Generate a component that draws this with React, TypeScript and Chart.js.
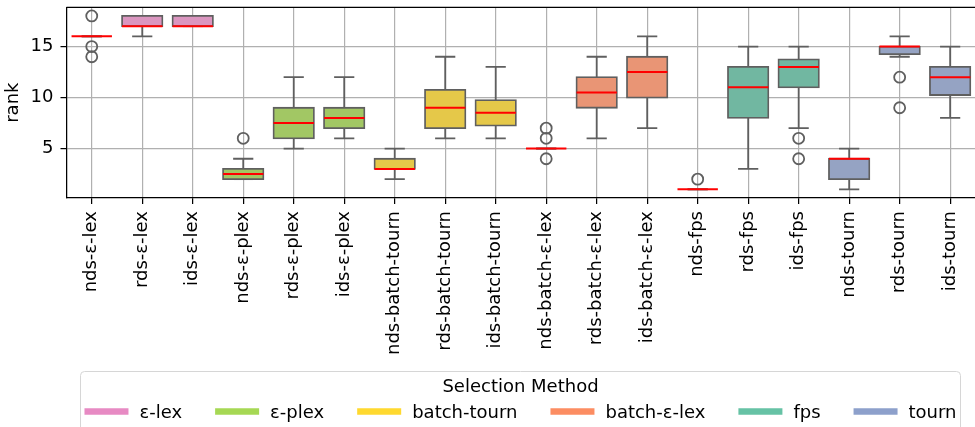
import { useEffect, useRef } from 'react';
import { Chart, registerables } from 'chart.js';

Chart.register(...registerables);

const FONT = '"DejaVu Sans", "Liberation Sans", sans-serif';

// one box per selection strategy
const categories = [
  'nds-ε-lex', 'rds-ε-lex', 'ids-ε-lex',
  'nds-ε-plex', 'rds-ε-plex', 'ids-ε-plex',
  'nds-batch-tourn', 'rds-batch-tourn', 'ids-batch-tourn',
  'nds-batch-ε-lex', 'rds-batch-ε-lex', 'ids-batch-ε-lex',
  'nds-fps', 'rds-fps', 'ids-fps',
  'nds-tourn', 'rds-tourn', 'ids-tourn',
];
// index into methods for each category
const methodOf = [0, 0, 0, 1, 1, 1, 2, 2, 2, 3, 3, 3, 4, 4, 4, 5, 5, 5];

const whiskerLow = [16, 16, 17, 2, 5, 6, 2, 6, 6, 5, 6, 7, 1, 3, 7, 1, 14, 8];
const q1 = [16, 17, 17, 2, 6, 7, 3, 7, 7.25, 5, 9, 10, 1, 8, 11, 2, 14.25, 10.25];
const median = [16, 17, 17, 2.5, 7.5, 8, 3, 9, 8.5, 5, 10.5, 12.5, 1, 11, 13, 4, 15, 12];
const q3 = [16, 18, 18, 3, 9, 9, 4, 10.75, 9.75, 5, 12, 14, 1, 13, 13.75, 4, 15, 13];
const whiskerHigh = [16, 18, 18, 4, 12, 12, 5, 14, 13, 5, 14, 16, 1, 15, 15, 5, 16, 15];
const outliers: number[][] = [
  [18, 15, 14], [], [], [6], [], [], [], [], [],
  [7, 6, 4], [], [], [2], [], [6, 4], [], [12, 9], [],
];

const methods = ['ε-lex', 'ε-plex', 'batch-tourn', 'batch-ε-lex', 'fps', 'tourn'];
const methodColors = ['#e78ac3', '#a6d854', '#ffd92f', '#fc8d62', '#66c2a5', '#8da0cb'];
const boxColors = ['#db96c0', '#a2c764', '#e5c849', '#e99575', '#71b7a1', '#95a3c3'];

const yTicks = [5, 10, 15];
const yMin = 0.15;
const yMax = 18.85;

const LINE_GRAY = '#5f5f5f';
const MEDIAN_RED = '#ff0000';

const boxPartsPlugin = {
  id: 'boxParts',
  beforeDatasetsDraw(chart: any) {
    const { ctx } = chart;
    const y = chart.scales.y;
    const bars = chart.getDatasetMeta(0).data;
    ctx.save();
    ctx.strokeStyle = LINE_GRAY;
    ctx.lineWidth = 1.8;
    bars.forEach((bar: any, i: number) => {
      const cx = bar.x;
      const cap = bar.width / 4;
      const segs: [number, number][] = [
        [q3[i], whiskerHigh[i]],
        [q1[i], whiskerLow[i]],
      ];
      segs.forEach(([from, to]) => {
        const y0 = y.getPixelForValue(from);
        const y1 = y.getPixelForValue(to);
        ctx.beginPath();
        ctx.moveTo(cx, y0);
        ctx.lineTo(cx, y1);
        ctx.moveTo(cx - cap, y1);
        ctx.lineTo(cx + cap, y1);
        ctx.stroke();
      });
    });
    ctx.restore();
  },
  afterDatasetsDraw(chart: any) {
    const { ctx, chartArea } = chart;
    const y = chart.scales.y;
    const bars = chart.getDatasetMeta(0).data;
    ctx.save();
    ctx.strokeStyle = MEDIAN_RED;
    ctx.lineWidth = 2;
    bars.forEach((bar: any, i: number) => {
      const py = y.getPixelForValue(median[i]);
      ctx.beginPath();
      ctx.moveTo(bar.x - bar.width / 2, py);
      ctx.lineTo(bar.x + bar.width / 2, py);
      ctx.stroke();
    });
    // top spine
    ctx.strokeStyle = '#000';
    ctx.lineWidth = 1.25;
    ctx.beginPath();
    ctx.moveTo(chartArea.left, chartArea.top);
    ctx.lineTo(chartArea.right, chartArea.top);
    ctx.stroke();
    ctx.restore();
  },
  afterDraw(chart: any) {
    const { ctx } = chart;
    ctx.save();
    // legend frame
    ctx.beginPath();
    ctx.roundRect(80.5, 371.5, 880, 90, 4);
    ctx.fillStyle = '#ffffff';
    ctx.fill();
    ctx.strokeStyle = '#d6d6d6';
    ctx.lineWidth = 1;
    ctx.stroke();

    const cx = 520.5;
    ctx.font = `18px ${FONT}`;
    ctx.fillStyle = '#000';
    ctx.textAlign = 'center';
    ctx.textBaseline = 'alphabetic';
    ctx.fillText('Selection Method', cx, 392);

    const handle = 44;
    const gap = 11;
    const spacing = 33;
    const widths = methods.map((m) => ctx.measureText(m).width);
    const total = widths.reduce((s, w) => s + handle + gap + w, 0) + spacing * (methods.length - 1);
    let x = cx - total / 2;
    ctx.textAlign = 'left';
    methods.forEach((m, i) => {
      ctx.strokeStyle = methodColors[i];
      ctx.lineWidth = 6.5;
      ctx.beginPath();
      ctx.moveTo(x, 411.5);
      ctx.lineTo(x + handle, 411.5);
      ctx.stroke();
      ctx.fillText(m, x + handle + gap, 418);
      x += handle + gap + widths[i] + spacing;
    });
    ctx.restore();
  },
};

export default function App() {
  const canvasRef = useRef<HTMLCanvasElement | null>(null);

  useEffect(() => {
    if (!canvasRef.current) return;
    const outlierPoints: { x: string; y: number }[] = [];
    outliers.forEach((vals, i) => vals.forEach((v) => outlierPoints.push({ x: categories[i], y: v })));

    const chart = new Chart(canvasRef.current, {
      type: 'bar',
      data: {
        labels: categories,
        datasets: [
          {
            type: 'bar',
            label: 'box',
            data: categories.map((_, i) => [q1[i], q3[i]]),
            backgroundColor: categories.map((_, i) => boxColors[methodOf[i]]),
            borderColor: LINE_GRAY,
            borderWidth: 1.8,
            borderSkipped: false,
            inflateAmount: 0.9,
            barPercentage: 0.8,
            categoryPercentage: 1,
            order: 2,
          } as any,
          {
            type: 'scatter',
            label: 'outliers',
            data: outlierPoints,
            pointStyle: 'circle',
            pointRadius: 5.5,
            backgroundColor: 'rgba(0,0,0,0)',
            borderColor: LINE_GRAY,
            borderWidth: 1.8,
            clip: false,
            order: 1,
          } as any,
        ],
      },
      options: {
        responsive: false,
        animation: false,
        devicePixelRatio: 1,
        events: [],
        layout: { padding: { left: 0, top: 5.7, right: 14.6, bottom: 69 } },
        plugins: { legend: { display: false }, tooltip: { enabled: false } },
        scales: {
          x: {
            type: 'category',
            offset: true,
            grid: {
              offset: false,
              color: '#b0b0b0',
              lineWidth: 1.2,
              tickColor: '#000',
              tickLength: 6,
              tickWidth: 1.25,
            },
            border: { color: '#000', width: 1.25 },
            ticks: {
              autoSkip: false,
              minRotation: 90,
              maxRotation: 90,
              padding: 7,
              color: '#000',
              font: { family: FONT, size: 18 },
            },
            afterFit(scale: any) {
              scale.height = 160;
              scale.paddingLeft = 0;
              scale.paddingRight = 0;
            },
          },
          y: {
            type: 'linear',
            min: yMin,
            max: yMax,
            grid: {
              color: '#b0b0b0',
              lineWidth: 1.2,
              tickColor: '#000',
              tickLength: 6,
              tickWidth: 1.25,
            },
            border: { color: '#000', width: 1.25 },
            ticks: {
              padding: 7,
              color: '#000',
              font: { family: FONT, size: 18 },
            },
            afterBuildTicks(scale: any) {
              scale.ticks = yTicks.map((v) => ({ value: v }));
            },
            title: {
              display: true,
              text: 'rank',
              color: '#000',
              font: { family: FONT, size: 18 },
              padding: { top: 3, bottom: 4 },
            },
            afterFit(scale: any) {
              scale.width = 66.5;
              scale.paddingTop = 0;
              scale.paddingBottom = 0;
            },
          },
        },
      },
      plugins: [boxPartsPlugin],
    });
    return () => chart.destroy();
  }, []);

  return (
    <div style={{ position: 'absolute', left: 0, top: 0, width: 975, height: 427, overflow: 'hidden', background: '#fff' }}>
      <canvas ref={canvasRef} width={990} height={427} style={{ width: 990, height: 427, display: 'block' }} />
    </div>
  );
}
